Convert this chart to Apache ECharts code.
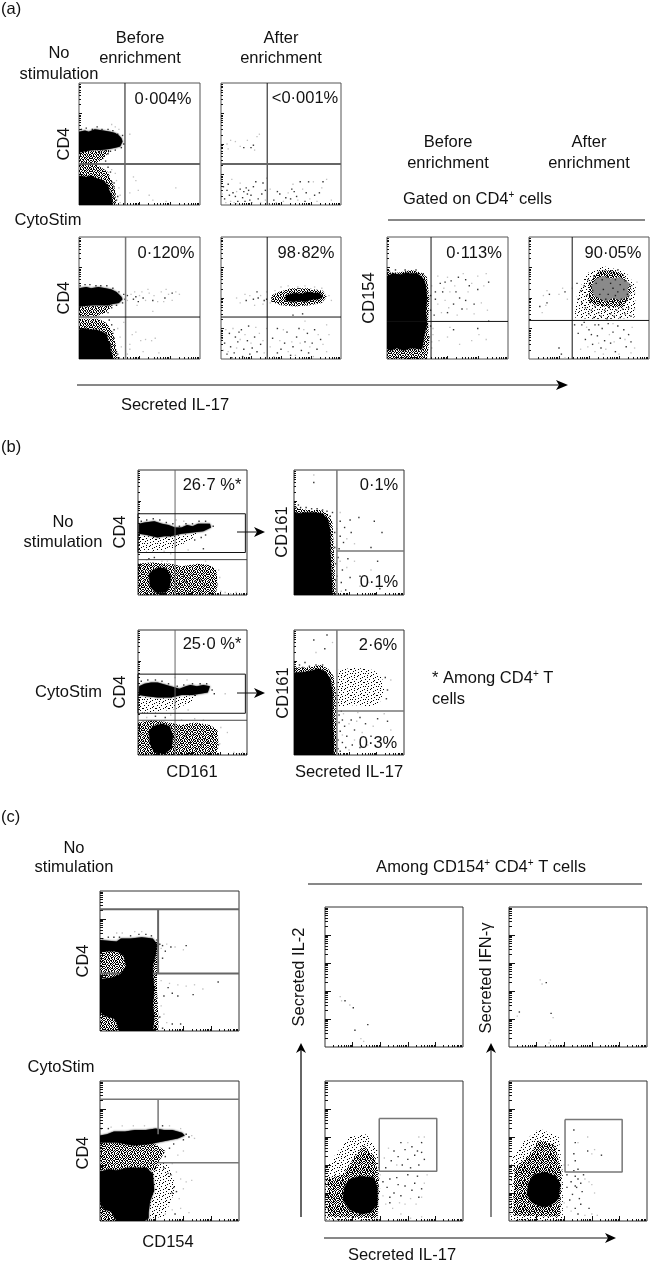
<!DOCTYPE html>
<html>
<head>
<meta charset="utf-8">
<script src="https://cdn.jsdelivr.net/npm/echarts@6/dist/echarts.min.js"></script>
<style>
  html, body { margin: 0; background: #fff; }
  #chart { width: 650px; height: 1265px; }
</style>
</head>
<body>
<div id="chart"></div>
<script>
// every panel uses 0-100 on both axes.
// *Mass = saturated black area, *Grain / *Soft = outlines of speckled areas
// too crowded to list event by event, *Dots = dark events, *Faint = pale events

const a1Mass = [
  [[0,60],[5,61],[8,60],[13,62],[20,61],[26,60],[30,59],[33,57],[35,55],[36,52],[34,48],[30,47],[25,46],[18,45],[12,45],[5,44],[0,43]],
  [[0,24],[6,23],[10,24],[14,22],[18,21],[21,19],[24,16],[25,12],[27,8],[27,4],[28,0],[0,0]],
];
const a1Grain = [
  [[0,44],[26,45],[20,38],[14,34],[0,34]],
  [[0,33],[14,33],[18,31],[24,27],[27,20],[30,12],[30,8],[31,0],[0,0]],
];
const a1Soft = [];
const a1Dots = [[2,62],[6,63],[11,62],[15,64],[19,62],[24,62],[28,61],[32,58],[36,57],[37,50],[35,47],[30,45],[26,44],[21,44],[17,43],[24,42],[22,36],[24,31],[26,27],[27,19],[29,15],[28,12],[30,9],[29,6],[31,4],[30,2],[32,7],[29,18]];
const a1Faint = [[42,58],[30,64],[27,66],[33,62],[45,23],[49,12],[58,8],[80,14],[47,20],[72,3],[42,10],[31,20],[33,14],[34,8],[30,26],[27,29],[34,2],[61,4]];

const a2Mass = [];
const a2Dots = [[19,47],[25,47],[27,49],[3,5],[5,12],[7,8],[10,10],[12,7],[14,3],[16,13],[18,6],[19,11],[21,14],[22,9],[23,12],[24,4],[27,15],[29,19],[31,5],[6,17],[2,15],[34,9],[37,12],[44,4],[49,9],[54,6],[58,5],[61,11],[63,7],[66,19],[71,10],[73,19],[78,8],[82,10],[85,19],[59,13],[35,18],[47,11],[70,3],[20,3],[25,8]];
const a2Faint = [[5,50],[8,53],[12,52],[16,48],[22,53],[30,56],[32,58],[28,45],[6,46],[4,2],[8,3],[11,2],[13,11],[16,18],[26,2],[33,2],[37,4],[41,13],[46,2],[52,3],[56,10],[60,17],[64,4],[68,13],[74,5],[77,19],[80,3],[84,14],[88,21],[92,4],[38,22],[9,21],[13,1],[40,1],[1,9]];

const a3Mass = [
  [[0,58],[6,59],[10,58],[16,59],[22,58],[27,57],[31,55],[35,51],[36,49],[33,46],[28,45],[24,44],[12,44],[0,43]],
  [[0,24],[5,25],[9,24],[14,24],[17,23],[20,22],[23,20],[24,15],[26,12],[26,7],[27,5],[28,0],[0,0]],
];
const a3Grain = [
  [[0,43],[28,44],[22,38],[14,35],[0,35]],
  [[0,33],[16,33],[22,30],[27,24],[30,14],[31,6],[32,0],[0,0]],
];
const a3Soft = [];
const a3Dots = [[1,60],[5,61],[9,61],[14,60],[18,60],[23,60],[28,58],[33,55],[37,53],[38,49],[36,46],[31,44],[27,42],[24,38],[25,32],[27,28],[28,21],[29,17],[30,11],[31,6],[32,4],[33,1],[29,24],[47,51],[49,47],[53,50],[61,48],[71,50],[77,54],[40,52],[45,49]];
const a3Faint = [[40,48],[43,53],[46,55],[50,52],[55,48],[58,54],[62,52],[65,47],[68,55],[70,47],[74,53],[80,55],[83,53],[57,57],[48,44],[61,39],[42,12],[44,20],[47,22],[51,15],[55,16],[60,15],[63,17],[53,6],[66,5],[40,4],[42,8],[35,10],[34,18],[32,25],[37,30],[72,57],[77,48],[52,55]];

const a4Mass = [
  [[54,52],[58,53],[62,54],[67,53],[72,55],[78,54],[82,54],[85,51],[81,49],[76,49],[70,47],[66,48],[60,47],[54,48]],
];
const a4Grain = [
  [[42,47],[50,44],[62,43],[74,44],[84,46],[88,51],[85,56],[72,58],[58,58],[48,55],[42,52]],
];
const a4Soft = [];
const a4Dots = [[60,36],[68,37],[31,50],[27,49],[21,48],[36,48],[38,49],[30,55],[8,10],[11,5],[14,14],[15,22],[19,8],[22,15],[23,27],[26,9],[7,21],[5,4],[3,13],[1,17],[18,2],[24,4],[28,18],[30,6],[33,12],[47,25],[50,8],[53,13],[58,3],[55,22],[60,10],[63,18],[67,7],[65,25],[70,14],[73,5],[72,21],[76,13],[80,8],[78,24],[83,16],[47,5],[43,17],[17,24],[12,18],[9,1]];
const a4Faint = [[13,50],[16,46],[20,53],[24,52],[28,44],[33,52],[35,45],[38,55],[41,46],[45,56],[50,59],[56,60],[64,59],[70,60],[78,59],[84,58],[90,52],[92,48],[6,6],[10,25],[13,9],[16,16],[20,20],[25,13],[29,26],[32,21],[36,5],[38,25],[41,10],[44,2],[49,15],[52,24],[56,6],[59,14],[62,3],[66,13],[69,24],[74,10],[77,2],[81,20],[85,12],[88,6],[90,20],[4,24],[2,7],[35,15],[88,28],[70,31]];

const a5Mass = [
  [[0,68],[5,70],[12,69],[16,71],[19,70],[25,70],[29,67],[31,64],[32,60],[33,50],[32,40],[33,28],[31,20],[30,14],[29,8],[20,9],[14,7],[8,9],[3,7],[0,9]],
];
const a5Grain = [
  [[0,71],[10,71],[20,73],[28,71],[33,67],[35,50],[34,30],[35,14],[33,0],[0,0]],
];
const a5Soft = [];
const a5Dots = [[2,72],[7,73],[15,73],[24,73],[30,70],[36,52],[36,40],[36,27],[35,18],[40,55],[40,49],[44,62],[48,63],[53,64],[59,67],[65,65],[68,60],[75,57],[55,45],[60,50],[65,48],[62,41],[46,55],[72,45],[84,63],[57,55],[50,38],[39,36],[84,31],[55,24],[75,25]];
const a5Faint = [[37,60],[42,68],[47,58],[50,67],[52,55],[56,60],[63,70],[67,55],[70,62],[75,68],[80,60],[82,70],[42,45],[45,38],[48,48],[51,42],[58,36],[66,41],[72,37],[78,46],[83,40],[38,25],[43,15],[50,18],[52,26],[60,12],[70,15],[76,20],[82,16],[37,14],[37,9],[38,20]];

const a6Mass = [];
const a6Gray = [
  [[56,66],[62,68],[68,66],[76,67],[84,62],[82,57],[84,52],[76,48],[70,50],[64,47],[58,50],[54,52],[52,60]],
];
const a6Grain = [
  [[50,46],[62,43],[78,42],[86,56],[78,70],[68,73],[58,72],[50,62]],
];
const a6Soft = [
  [[38,34],[50,33],[72,33],[88,34],[89,60],[80,72],[62,76],[48,70],[40,52]],
];
const a6Dots = [[40,62],[41,49],[43,56],[44,46],[46,60],[47,42],[48,52],[49,65],[50,37],[51,47],[52,40],[53,56],[54,68],[54,34],[55,43],[56,62],[57,47],[58,71],[58,38],[59,53],[60,35],[61,65],[61,44],[62,57],[63,72],[63,40],[64,49],[65,67],[65,33],[66,53],[67,42],[68,62],[68,37],[69,71],[70,47],[70,58],[71,35],[72,52],[72,65],[73,40],[74,55],[74,73],[75,46],[76,61],[76,34],[77,49],[78,69],[78,41],[79,57],[80,37],[80,64],[81,48],[82,53],[83,42],[84,61],[85,35],[84,49],[38,28],[41,21],[44,28],[47,16],[50,24],[53,12],[55,28],[57,19],[60,9],[61,25],[63,15],[66,29],[68,13],[70,22],[72,6],[74,27],[76,17],[79,24],[81,10],[83,20],[85,14],[58,28],[46,30],[52,20],[27,4],[25,9],[15,46],[17,53],[9,43],[30,55]];
const a6Faint = [[12,52],[14,44],[15,56],[11,38],[25,53],[28,58],[32,49],[36,58],[86,60],[88,54],[90,63],[88,41],[49,10],[55,6],[62,4],[67,20],[71,14],[75,4],[80,16],[86,26],[88,9],[64,8],[58,13],[48,26],[70,29],[85,5],[43,8],[30,1]];

const b1Mass = [
  [[1,57],[6,58],[15,59],[22,57],[28,56],[34,54],[40,54],[45,56],[50,55],[55,57],[60,57],[66,57],[67,54],[60,51],[50,50],[40,49],[30,47],[24,47],[18,46],[8,48],[1,49]],
  [[10,17],[14,20],[20,22],[26,21],[30,15],[29,6],[25,2],[16,2],[11,7]],
];
const b1Grain = [
  [[0,25],[12,26],[30,25],[40,23],[55,25],[66,24],[72,20],[73,8],[71,0],[0,0]],
];
const b1Soft = [
  [[0,48],[20,46],[40,48],[55,50],[48,44],[35,38],[15,35],[0,35]],
];
const b1Dots = [[3,59],[8,60],[14,61],[20,60],[26,58],[32,57],[38,55],[44,57],[50,57],[56,59],[62,59],[69,55],[58,46],[62,48],[52,44],[60,37],[15,30],[10,29],[48,14],[52,11],[55,13],[58,12],[61,8],[43,11],[38,9],[35,6],[42,15],[45,10],[50,16],[47,7],[56,5]];
const b1Faint = [[35,60],[42,59],[24,35],[30,33],[46,36],[75,14],[73,8],[76,3],[74,20],[8,28],[22,27],[27,27],[62,27],[80,2],[85,1],[90,2],[95,1]];

const b2Mass = [
  [[0,67],[4,65],[10,66],[18,66],[26,65],[31,60],[33,50],[33,35],[34,18],[35,0],[0,0]],
];
const b2Grain = [
  [[0,70],[12,68],[24,68],[31,65],[35,58],[36,40],[37,20],[38,0],[0,0]],
];
const b2Soft = [];
const b2Dots = [[2,70],[6,70],[11,70],[16,69],[21,69],[26,68],[30,67],[33,63],[37,50],[37,38],[38,25],[38,12],[39,15],[4,72],[18,90],[35,66],[42,59],[46,54],[42,47],[45,42],[52,50],[51,60],[59,62],[73,59],[80,50],[44,20],[43,10],[49,29],[51,14],[47,4],[60,15],[76,27],[78,5],[40,30],[41,37],[70,38]];
const b2Faint = [[42,66],[48,45],[55,41],[39,53],[42,27],[48,22],[55,27],[60,7],[18,96],[70,20],[68,10],[43,3]];

const b3Mass = [
  [[1,55],[6,57],[12,58],[18,58],[22,57],[30,55],[38,53],[44,55],[48,56],[54,55],[60,56],[66,55],[64,50],[50,48],[40,48],[30,46],[18,46],[8,47],[1,48]],
  [[10,19],[14,23],[22,25],[29,23],[32,15],[31,6],[25,1],[15,2],[11,9]],
];
const b3Grain = [
  [[0,26],[14,28],[28,26],[40,24],[52,26],[66,24],[73,20],[74,8],[72,0],[0,0]],
];
const b3Soft = [
  [[0,47],[20,45],[40,47],[55,48],[48,42],[35,37],[15,34],[0,34]],
];
const b3Dots = [[3,59],[9,60],[16,60],[22,59],[28,57],[36,55],[42,56],[50,57],[57,57],[63,57],[68,52],[70,49],[25,30],[16,31],[43,15],[48,10],[51,16],[55,12],[58,8],[61,13],[64,10],[67,15],[45,18],[40,8],[53,5]];
const b3Faint = [[34,62],[45,60],[8,30],[30,32],[46,36],[80,49],[76,22],[75,9],[82,18],[88,2],[92,1],[96,2],[40,28],[60,28],[52,29]];

const b4Mass = [
  [[0,66],[6,66],[14,67],[22,69],[28,67],[33,61],[35,50],[35,30],[36,12],[36,0],[0,0]],
];
const b4Grain = [
  [[0,70],[12,70],[24,72],[31,69],[36,63],[38,50],[38,30],[39,10],[39,0],[0,0]],
];
const b4Soft = [
  [[38,38],[55,40],[70,38],[78,42],[82,52],[80,62],[72,68],[55,70],[40,68]],
];
const b4Dots = [[2,69],[8,70],[14,71],[20,72],[26,72],[41,32],[44,28],[46,23],[42,19],[48,15],[44,10],[40,5],[47,6],[52,28],[55,20],[60,30],[65,25],[70,15],[76,29],[53,8],[60,6],[85,27],[41,26],[43,35],[40,12],[42,3],[18,92],[30,96],[28,85],[5,72],[10,74],[83,62],[85,52],[84,45]];
const b4Faint = [[44,16],[50,4],[57,27],[35,90],[20,82],[45,33],[50,25],[55,12],[58,34],[62,18],[67,8],[72,23],[78,12],[82,33],[88,20],[88,60]];

const c1Mass = [
  [[0,65],[12,64],[15,66],[22,66],[30,67],[38,66],[41,62],[40,54],[38,47],[38,41],[39,30],[38,18],[39,10],[38,0],[14,0],[12,6],[10,9],[3,11],[0,14],[0,37],[8,38],[14,40],[19,46],[17,54],[12,57],[0,57]],
];
const c1Grain = [
  [[0,58],[20,58],[20,38],[0,36]],
  [[0,15],[14,15],[14,0],[0,0]],
  [[36,66],[42,63],[41,50],[41,30],[42,10],[42,0],[36,0]],
];
const c1Soft = [];
const c1Dots = [[2,66],[6,67],[10,67],[14,67],[22,68],[28,69],[33,69],[37,68],[41,65],[43,62],[45,61],[51,60],[47,57],[62,61],[45,52],[52,27],[46,25],[56,25],[67,26],[85,35],[42,44],[49,31],[43,10],[45,2],[52,5],[58,5]];
const c1Faint = [[16,70],[25,71],[30,71],[12,70],[44,59],[48,62],[54,60],[60,58],[44,36],[50,34],[56,33],[62,32],[68,33],[44,18],[46,12],[48,6],[74,30]];

const c2Mass = [
  [[0,61],[5,62],[10,64],[18,64],[25,65],[33,65],[40,66],[46,65],[52,65],[59,63],[61,61],[56,59],[46,57],[36,55],[24,54],[12,56],[0,56]],
  [[0,35],[6,37],[12,36],[20,38],[33,38],[38,34],[39,22],[36,14],[35,6],[35,2],[32,0],[12,0],[8,7],[3,8],[0,14]],
];
const c2Grain = [
  [[0,56],[38,56],[47,50],[42,42],[40,36],[0,36]],
  [[0,15],[12,15],[12,0],[0,0]],
];
const c2Soft = [
  [[36,40],[48,42],[52,32],[55,24],[50,12],[46,3],[36,2]],
];
const c2Dots = [[1,66],[6,66],[45,68],[62,62],[64,60],[60,58],[53,55],[50,52],[49,34],[51,33],[53,24],[55,21],[52,20],[54,5],[47,46],[46,38]];
const c2Faint = [[8,67],[16,68],[24,68],[32,68],[50,68],[58,66],[66,61],[68,59],[60,50],[56,47],[52,41],[55,35],[58,30],[62,28],[66,29],[57,16],[60,23],[47,5],[52,8],[58,9],[64,6]];

const c3Mass = [];
const c3Dots = [[14.5,33],[20.5,28],[21.7,12],[31,16]];
const c3Faint = [[11,36],[12,33],[28,4],[26,6],[18,30]];

const c4Mass = [];
const c4Dots = [[27,46],[7.5,25],[30.5,24]];
const c4Faint = [[22.6,48],[24,45],[30,5],[32,21],[6,22],[29,3]];

const c5Mass = [
  [[14,24],[18,30],[26,32],[35,31],[38,24],[38,12],[33,6],[26,5],[18,8],[13,15]],
];
const c5Grain = [
  [[2,3],[38,2],[39,30],[36,46],[28,54],[20,44],[14,34],[2,30]],
];
const c5Soft = [
  [[0,1],[38,0],[40,22],[38,50],[30,62],[18,60],[8,48],[0,36]],
];
const c5Dots = [[42,28],[45,24],[47,30],[50,20],[53,26],[55,18],[58,25],[60,33],[63,22],[65,27],[68,17],[70,23],[67,32],[47,17],[52,31],[44,38],[48,43],[50,50],[53,46],[56,40],[58,51],[60,44],[62,38],[63,53],[65,47],[67,50],[68,40],[70,56],[72,44],[70,49],[55,56],[47,13]];
const c5Faint = [[42,18],[44,12],[49,9],[54,13],[58,12],[62,16],[66,12],[70,17],[72,27],[74,33],[40,33],[43,45],[46,52],[52,40],[60,56],[68,60],[72,60],[55,5],[62,2],[70,3],[39,1]];

const c6Mass = [
  [[14,27],[18,33],[26,35],[34,32],[37,26],[36,16],[30,11],[24,10],[17,13],[13,19]],
];
const c6Grain = [
  [[3,4],[37,3],[38,36],[33,54],[22,58],[14,46],[4,38]],
];
const c6Soft = [
  [[1,0],[39,0],[39,34],[36,60],[22,66],[10,56],[2,44]],
];
const c6Dots = [[42,24],[45,28],[46,19],[48,32],[49,24],[51,16],[52,27],[47,36],[50,30],[53,21],[54,33],[42,33],[44,15],[48,9],[50,5],[52,12],[58,9],[48,43],[50,37],[47,48],[47,65],[48,56],[57,50],[67,47],[48,25]];
const c6Faint = [[40,40],[43,40],[55,30],[58,28],[60,26],[62,20],[45,7],[55,4],[60,5],[64,4],[42,10],[50,56],[57,60],[62,51],[60,48],[40,13]];

// gate lines, one polyline per entry
const a1Gates = [[[38,0],[38,100]],[[0,33.6],[100,33.6]]];
const a2Gates = [[[38.5,0],[38.5,100]],[[0,33.6],[100,33.6]]];
const a3Gates = [[[38.5,0],[38.5,100]],[[0,34.4],[100,34.4]]];
const a4Gates = [[[38.5,0],[38.5,100]],[[0,34.4],[100,34.4]]];
const a5Gates = [[[36.4,0],[36.4,100]],[[0,30.8],[100,30.8]]];
const a6Gates = [[[36,0],[36,100]],[[0,31.6],[100,31.6]]];
const b1Gates = [[[34,0],[34,100]],[[0,28.3],[100,28.3]],[[0,65],[98.5,65],[98.5,34],[0,34],[0,65]]];
const b2Gates = [[[39,0],[39,100]],[[39,35.2],[100,35.2]]];
const b3Gates = [[[34,0],[34,100]],[[0,27.8],[100,27.8]],[[0,64.7],[98.5,64.7],[98.5,33.4],[0,33.4],[0,64.7]]];
const b4Gates = [[[39,0],[39,100]],[[39,35.3],[100,35.3]]];
const c1Gates = [[[0,87],[100,87]],[[38,41.1],[100,41.1]],[[41.8,41.1],[41.8,87]],[[0,41.1],[14,41.1]]];
const c2Gates = [[[0,87],[100,87]],[[41.8,41.6],[100,41.6]],[[41.8,62],[41.8,87]]];
const c5Gates = [[[39.3,73.3],[81,73.3],[81,35.6],[39.3,35.6],[39.3,73.3]]];
const c6Gates = [[[40.6,72.5],[82,72.5],[82,35],[40.6,35],[40.6,72.5]]];

// stipple tiles for the crowded areas
const grainTile = [
  "#.##.#..#.#.#",
  ".#..#.##.#.#.",
  "##.#..#.#..##",
  "..#.##.#.##..",
  "#.#..#..#.#.#",
  ".#.##.#.#..#.",
  "#..#.#.##.#.#",
  ".##.#.#..#.#.",
  "#.#.#..##.#..",
  ".#..##.#..#.#",
  "##.#.#..#.#..",
  "..#.#.##.#.##",
  "#.#..#.#.#.#.",
];
const softTile = [
  "#.....#......",
  "...#.......#.",
  ".........#...",
  ".#...#.......",
  "..........#..",
  "...#.....#...",
  "#......#....#",
  "....#........",
  "..#.......#..",
  ".......#.....",
  ".#..#.......#",
  ".........#...",
  "...#...#.....",
];

const INK = "#111";
const GRAY = "#666";
const FONT = '16.5px "Liberation Sans", Arial, sans-serif';

const logSteps = [2, 3, 4, 5, 6, 7, 8, 9].map((k) => Math.log10(k));

function tilePattern(rows) {
  const canvas = document.createElement("canvas");
  canvas.width = rows[0].length;
  canvas.height = rows.length;
  const ctx = canvas.getContext("2d");
  ctx.fillStyle = "#000";
  rows.forEach((row, y) => {
    row.split("").forEach((c, x) => {
      if (c === "#") ctx.fillRect(x, y, 1, 1);
    });
  });
  return { image: canvas, repeat: "repeat" };
}
const grainFill = tilePattern(grainTile);
const softFill = tilePattern(softTile);

function decadeTicks(decades) {
  const major = [];
  const minor = [];
  const size = 100 / decades;
  for (let d = 0; d < decades; d++) {
    if (d > 0) major.push(d * size);
    logSteps.forEach((s) => minor.push((d + s) * size));
  }
  return { major, minor };
}

const grids = [];
const xAxes = [];
const yAxes = [];
const series = [];

function addAxis(list, position, index, values, length) {
  list.push({
    type: "value",
    gridIndex: index,
    position: position,
    min: 0,
    max: 100,
    axisLine: { show: false },
    splitLine: { show: false },
    axisLabel: { show: false },
    axisTick: {
      show: true,
      inside: true,
      length: length,
      customValues: values,
      lineStyle: { color: INK, width: 1 },
    },
  });
}

function addPanel(box, data) {
  const index = grids.length;
  const ticks = decadeTicks(box.decades);
  grids.push({
    left: box.x0,
    top: box.y0,
    width: box.x1 - box.x0,
    height: box.y1 - box.y0,
    show: true,
    borderColor: box.frame || "#333",
    borderWidth: 1,
    backgroundColor: "#fff",
  });
  const axisStart = xAxes.length;
  addAxis(xAxes, "bottom", index, ticks.major, box.decades === 5 ? 5 : 3);
  addAxis(xAxes, "bottom", index, ticks.minor, 2);
  addAxis(yAxes, "left", index, ticks.major, box.decades === 5 ? 6 : 3);
  addAxis(yAxes, "left", index, ticks.minor, box.decades === 5 ? 3 : 2);
  const onAxes = { xAxisIndex: axisStart, yAxisIndex: axisStart, silent: true, animation: false };

  const polygon = (outline, style) => ({
    ...onAxes,
    type: "custom",
    clip: true,
    data: outline,
    renderItem: (params, api) => {
      if (params.dataIndex !== 0) return null;
      return {
        type: "polygon",
        shape: { points: outline.map((p) => api.coord(p)) },
        style: style,
      };
    },
  });
  (data.soft || []).forEach((outline) => series.push(polygon(outline, { fill: softFill })));
  (data.grain || []).forEach((outline) => series.push(polygon(outline, { fill: grainFill })));
  (data.gray || []).forEach((outline) => series.push(polygon(outline, { fill: "#8a8a8a" })));
  (data.mass || []).forEach((outline) =>
    series.push(polygon(outline, { fill: "#000", shadowBlur: 2, shadowColor: "#000" })),
  );

  series.push({
    ...onAxes,
    type: "scatter",
    symbol: "rect",
    symbolSize: 1.3,
    data: data.faint,
    itemStyle: { color: "#b0b0b0" },
  });
  series.push({
    ...onAxes,
    type: "scatter",
    symbol: "rect",
    symbolSize: 1.4,
    data: data.dots,
    itemStyle: { color: "#000" },
  });
  (data.gates || []).forEach((line, i) => {
    const style = (box.gateStyle && box.gateStyle[i]) || { color: INK, width: 1 };
    series.push({
      ...onAxes,
      type: "line",
      data: line,
      symbol: "none",
      clip: false,
      lineStyle: style,
    });
  });
}

const thin = { color: INK, width: 1 };
const thick = { color: GRAY, width: 2 };
const mid = { color: "#777", width: 1.5 };

addPanel({ x0: 79, x1: 200, y0: 83, y1: 205, decades: 4, frame: "#555", gateStyle: [thin, thick] },
  { mass: a1Mass, grain: a1Grain, soft: a1Soft, dots: a1Dots, faint: a1Faint, gates: a1Gates });
addPanel({ x0: 221, x1: 341, y0: 83, y1: 205, decades: 4, frame: "#555", gateStyle: [thin, thick] },
  { mass: a2Mass, dots: a2Dots, faint: a2Faint, gates: a2Gates });
addPanel({ x0: 79, x1: 200, y0: 237, y1: 359, decades: 4, frame: "#555", gateStyle: [mid, thin] },
  { mass: a3Mass, grain: a3Grain, soft: a3Soft, dots: a3Dots, faint: a3Faint, gates: a3Gates });
addPanel({ x0: 221, x1: 341, y0: 237, y1: 359, decades: 4, frame: "#555", gateStyle: [thin, thin] },
  { mass: a4Mass, grain: a4Grain, soft: a4Soft, dots: a4Dots, faint: a4Faint, gates: a4Gates });
addPanel({ x0: 387, x1: 508, y0: 237, y1: 359, decades: 4, frame: "#555", gateStyle: [thin, thin] },
  { mass: a5Mass, grain: a5Grain, soft: a5Soft, dots: a5Dots, faint: a5Faint, gates: a5Gates });
addPanel({ x0: 529, x1: 649, y0: 237, y1: 359, decades: 4, frame: "#555", gateStyle: [thin, thin] },
  { gray: a6Gray, grain: a6Grain, soft: a6Soft, mass: a6Mass, dots: a6Dots, faint: a6Faint, gates: a6Gates });

addPanel({ x0: 138, x1: 247, y0: 470, y1: 595, decades: 4, gateStyle: [{ color: GRAY, width: 1 }, { color: "#444", width: 1 }, thin] },
  { mass: b1Mass, grain: b1Grain, soft: b1Soft, dots: b1Dots, faint: b1Faint, gates: b1Gates });
addPanel({ x0: 294, x1: 404, y0: 470, y1: 595, decades: 4, gateStyle: [mid, mid] },
  { mass: b2Mass, grain: b2Grain, soft: b2Soft, dots: b2Dots, faint: b2Faint, gates: b2Gates });
addPanel({ x0: 138, x1: 247, y0: 630, y1: 755, decades: 4, gateStyle: [{ color: GRAY, width: 1 }, { color: "#444", width: 1 }, thin] },
  { mass: b3Mass, grain: b3Grain, soft: b3Soft, dots: b3Dots, faint: b3Faint, gates: b3Gates });
addPanel({ x0: 294, x1: 404, y0: 630, y1: 755, decades: 4, gateStyle: [mid, mid] },
  { mass: b4Mass, grain: b4Grain, soft: b4Soft, dots: b4Dots, faint: b4Faint, gates: b4Gates });

addPanel({ x0: 100, x1: 239, y0: 891, y1: 1031, decades: 5, gateStyle: [thick, thick, thick, thick] },
  { mass: c1Mass, grain: c1Grain, soft: c1Soft, dots: c1Dots, faint: c1Faint, gates: c1Gates });
addPanel({ x0: 100, x1: 239, y0: 1081, y1: 1221, decades: 5, gateStyle: [mid, mid, mid] },
  { mass: c2Mass, grain: c2Grain, soft: c2Soft, dots: c2Dots, faint: c2Faint, gates: c2Gates });
addPanel({ x0: 325, x1: 463, y0: 907, y1: 1047, decades: 5 },
  { mass: c3Mass, dots: c3Dots, faint: c3Faint });
addPanel({ x0: 509, x1: 647, y0: 907, y1: 1047, decades: 5 },
  { mass: c4Mass, dots: c4Dots, faint: c4Faint });
addPanel({ x0: 325, x1: 463, y0: 1081, y1: 1221, decades: 5, gateStyle: [mid] },
  { mass: c5Mass, grain: c5Grain, soft: c5Soft, dots: c5Dots, faint: c5Faint, gates: c5Gates });
addPanel({ x0: 509, x1: 647, y0: 1081, y1: 1221, decades: 5, gateStyle: [mid] },
  { mass: c6Mass, grain: c6Grain, soft: c6Soft, dots: c6Dots, faint: c6Faint, gates: c6Gates });

// text and annotation layer, in page pixels
const sup = { fontSize: 10, padding: [0, 0, 7, 0], font: '10px "Liberation Sans", Arial, sans-serif' };

function label(text, x, y, align = "center", rotated = false) {
  return {
    type: "text",
    x: x,
    y: y,
    rotation: rotated ? Math.PI / 2 : 0,
    z: 50,
    style: { text: text, fill: INK, font: FONT, align: align, verticalAlign: "middle", rich: { sup: sup } },
  };
}

function rule(x1, y1, x2, y2, color = INK, width = 1) {
  return { type: "line", z: 40, shape: { x1, y1, x2, y2 }, style: { stroke: color, lineWidth: width } };
}

function arrowHead(points) {
  return { type: "polygon", z: 41, shape: { points: points }, style: { fill: "#000" } };
}

const texts = [
  label("(a)", 1, 9, "left"),
  label("Before", 140, 38), label("enrichment", 140, 58),
  label("After", 281, 38), label("enrichment", 281, 58),
  label("No", 59, 53), label("stimulation", 59, 74),
  label("CytoStim", 48, 220),
  label("CD4", 64, 144, "center", true), label("CD4", 64, 298, "center", true),
  label("0·004%", 163, 99), label("<0·001%", 305, 98), label("0·120%", 166, 253), label("98·82%", 306, 253),
  label("Secreted IL-17", 175, 405),
  label("Before", 448, 142), label("enrichment", 448, 163),
  label("After", 589, 142), label("enrichment", 589, 163),
  label("Gated on CD4{sup|+} cells", 403, 199, "left"),
  label("CD154", 369, 298, "center", true),
  label("0·113%", 474, 253), label("90·05%", 613, 253),

  label("(b)", 1, 447, "left"),
  label("No", 63, 522), label("stimulation", 63, 542),
  label("CytoStim", 102, 692, "right"),
  label("CD4", 120, 532, "center", true), label("CD4", 120, 692, "center", true),
  label("CD161", 282, 532, "center", true), label("CD161", 283, 693, "center", true),
  label("26·7 %*", 212, 485), label("25·0 %*", 212, 644),
  label("0·1%", 379, 485), label("0·1%", 379, 582), label("2·6%", 378, 645), label("0·3%", 378, 743),
  label("CD161", 192, 772), label("Secreted IL-17", 349, 772),
  label("* Among CD4{sup|+} T", 432, 678, "left"), label("cells", 432, 699, "left"),

  label("(c)", 1, 817, "left"),
  label("No", 74, 848), label("stimulation", 74, 867),
  label("CytoStim", 61, 1067),
  label("CD4", 83, 961, "center", true), label("CD4", 83, 1153, "center", true),
  label("CD154", 168, 1242),
  label("Among CD154{sup|+} CD4{sup|+} T cells", 481, 867),
  label("Secreted IL-2", 299, 977, "center", true),
  label("Secreted IFN-γ", 486, 978, "center", true),
  label("Secreted IL-17", 402, 1255),
];

const marks = [
  rule(77, 385, 560, 385), arrowHead([[568, 385], [556, 380], [559, 385], [556, 390]]),
  rule(388, 220, 645, 220),
  rule(237, 532, 257, 532), arrowHead([[265, 532], [254, 527], [257, 532], [254, 537]]),
  rule(237, 693, 257, 693), arrowHead([[265, 693], [254, 688], [257, 693], [254, 698]]),
  rule(308, 884, 642, 884),
  rule(301, 1217, 301, 1050, GRAY, 2), arrowHead([[301, 1043], [296, 1053], [301, 1050], [306, 1053]]),
  rule(491, 1217, 491, 1050), arrowHead([[491, 1043], [486, 1053], [491, 1050], [496, 1053]]),
  rule(324, 1238, 608, 1238), arrowHead([[616, 1238], [605, 1233], [608, 1238], [605, 1243]]),
];

const chart = echarts.init(document.getElementById("chart"));
chart.setOption({
  animation: false,
  backgroundColor: "#fff",
  grid: grids,
  xAxis: xAxes,
  yAxis: yAxes,
  series: series,
  graphic: { elements: texts.concat(marks) },
});
</script>
</body>
</html>
